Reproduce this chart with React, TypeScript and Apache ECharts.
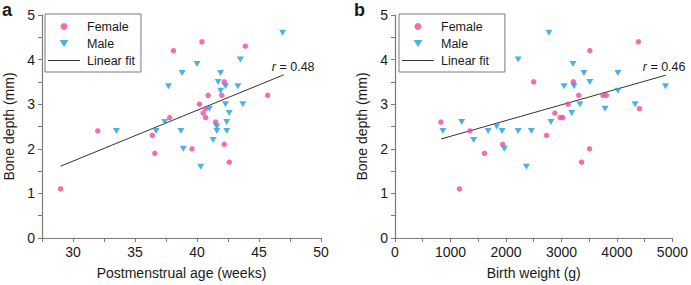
import React, { useEffect, useRef } from "react";
import * as echarts from "echarts";

// Panel a: postmenstrual age (weeks) vs bone depth (mm)
const femaleAgeA = [29.0, 32.0, 36.4, 36.6, 37.8, 38.1, 39.6, 40.2, 40.4, 40.9, 40.7, 40.5, 40.7, 41.5, 42.0, 42.2, 42.2, 42.6, 43.9, 45.7];
const femaleDepthA = [1.1, 2.4, 2.3, 1.9, 2.7, 4.2, 2.0, 3.0, 4.4, 3.2, 2.9, 2.8, 2.7, 2.6, 3.2, 3.5, 2.1, 1.7, 4.3, 3.2];
const maleAgeA = [33.5, 36.7, 37.4, 37.7, 38.7, 38.8, 38.9, 40.0, 40.3, 41.0, 41.3, 41.6, 41.6, 41.7, 41.9, 41.9, 42.3, 42.3, 42.4, 42.4, 42.6, 43.3, 43.5, 43.7, 46.9];
const maleDepthA = [2.4, 2.4, 2.6, 3.4, 2.4, 3.7, 2.0, 3.9, 1.6, 2.9, 2.2, 2.5, 2.4, 3.5, 3.7, 3.3, 3.4, 3.0, 2.6, 2.4, 2.8, 3.4, 4.0, 3.0, 4.6];
const fitXA = [29.0, 47.0];
const fitYA = [1.61, 3.66];
const rA = "0.48";

// Panel b: birth weight (g) vs bone depth (mm)
const femaleWeightB = [827, 1161, 1351, 1613, 1940, 2500, 2732, 2881, 2976, 3024, 3119, 3214, 3310, 3363, 3506, 3512, 3750, 3810, 4387, 4405];
const femaleDepthB = [2.6, 1.1, 2.4, 1.9, 2.1, 3.5, 2.3, 2.8, 2.7, 2.7, 3.0, 3.5, 3.2, 1.7, 2.0, 4.2, 3.2, 3.2, 4.4, 2.9];
const maleWeightB = [863, 1202, 1417, 1679, 1833, 1929, 1970, 2220, 2220, 2369, 2458, 2774, 2810, 3048, 3185, 3208, 3226, 3333, 3405, 3512, 3786, 4018, 4018, 4327, 4875];
const maleDepthB = [2.4, 2.6, 2.2, 2.4, 2.5, 2.4, 2.0, 4.0, 2.4, 1.6, 2.4, 4.6, 2.6, 3.4, 2.8, 3.9, 3.4, 3.0, 3.7, 3.5, 2.9, 3.7, 3.3, 3.0, 3.4];
const fitXB = [830, 4880];
const fitYB = [2.22, 3.65];
const rB = "0.46";

const seriesNames = ["Female", "Male", "Linear fit"];
const xTitles = ["Postmenstrual age (weeks)", "Birth weight (g)"];
const yTitle = "Bone depth (mm)";
const panelLetters = ["a", "b"];

const PINK = "#ee4a9e";
const BLUE = "#1d9fe2";
const AXIS = "#7a7a7a";
const TEXT = "#1a1a1a";
const FIT = "#333333";
const FONT = "'Liberation Sans', Arial, Helvetica, sans-serif";
const TRI = "path://M0,0 L10,0 L5,8 Z";
const LINE_ICON = "path://M0,0 L64,0 L64,2 L0,2 Z";

const zip = (xs: number[], ys: number[]) => xs.map((x, i) => [x, ys[i]]);

function xAxisOf(gridIndex: number, min: number, max: number, interval: number, major: number, name: string) {
  return {
    type: "value",
    gridIndex,
    min,
    max,
    interval,
    name,
    nameLocation: "middle",
    nameGap: 28,
    nameTextStyle: { color: TEXT, fontSize: 14, fontFamily: FONT },
    axisLine: { show: true, onZero: false, lineStyle: { color: AXIS, width: 1.2 } },
    axisTick: { show: true, inside: false, length: 4, lineStyle: { color: AXIS } },
    axisLabel: {
      color: TEXT,
      fontSize: 14,
      fontFamily: FONT,
      margin: 7,
      showMinLabel: true,
      showMaxLabel: true,
      formatter: (v: number) => (Math.abs(v / major - Math.round(v / major)) < 1e-6 ? String(v) : ""),
    },
    splitLine: { show: false },
  };
}

function yAxisOf(gridIndex: number) {
  return {
    type: "value",
    gridIndex,
    min: 0,
    max: 5,
    interval: 0.5,
    name: yTitle,
    nameLocation: "middle",
    nameGap: 26,
    nameTextStyle: { color: TEXT, fontSize: 14, fontFamily: FONT },
    axisLine: { show: true, onZero: false, lineStyle: { color: AXIS, width: 1.2 } },
    axisTick: { show: true, inside: false, length: 4, lineStyle: { color: AXIS } },
    axisLabel: {
      color: TEXT,
      fontSize: 14,
      fontFamily: FONT,
      margin: 7,
      formatter: (v: number) => (Math.abs(v - Math.round(v)) < 1e-6 ? String(Math.round(v)) : ""),
    },
    splitLine: { show: false },
  };
}

function legendOf(left: number, padRight: number) {
  return {
    show: true,
    orient: "vertical",
    left,
    top: 14,
    data: [
      { name: seriesNames[0] },
      { name: seriesNames[1] },
      { name: seriesNames[2], icon: LINE_ICON, itemStyle: { color: FIT } },
    ],
    itemWidth: 32,
    itemHeight: 7,
    itemGap: 4,
    padding: [6, padRight, 5, 3],
    borderColor: AXIS,
    borderWidth: 1,
    borderRadius: 0,
    textStyle: { color: TEXT, fontSize: 12.5, fontFamily: FONT, padding: [0, 0, 0, 2] },
    selectedMode: false,
  };
}

function seriesOf(idx: number, fx: number[], fy: number[], mx: number[], my: number[], lx: number[], ly: number[]) {
  return [
    {
      type: "scatter",
      name: seriesNames[0],
      xAxisIndex: idx,
      yAxisIndex: idx,
      symbol: "circle",
      symbolSize: 5.5,
      itemStyle: { color: PINK },
      data: zip(fx, fy),
      z: 3,
    },
    {
      type: "scatter",
      name: seriesNames[1],
      xAxisIndex: idx,
      yAxisIndex: idx,
      symbol: TRI,
      symbolSize: [7, 6],
      itemStyle: { color: BLUE },
      data: zip(mx, my),
      z: 3,
    },
    {
      type: "line",
      name: seriesNames[2],
      xAxisIndex: idx,
      yAxisIndex: idx,
      symbol: "none",
      showSymbol: false,
      lineStyle: { color: FIT, width: 1 },
      itemStyle: { color: FIT },
      data: zip(lx, ly),
      z: 2,
    },
  ];
}

export default function App() {
  const ref = useRef<HTMLDivElement>(null);
  useEffect(() => {
    if (!ref.current) return;
    const chart = echarts.init(ref.current, undefined, { renderer: "svg" });
    chart.setOption({
      animation: false,
      backgroundColor: "#ffffff",
      textStyle: { fontFamily: FONT },
      grid: [
        { left: 42, top: 15, width: 279, height: 224 },
        { left: 395, top: 15, width: 280, height: 224 },
      ],
      xAxis: [xAxisOf(0, 27.5, 50, 2.5, 5, xTitles[0]), xAxisOf(1, 0, 5000, 500, 1000, xTitles[1])],
      yAxis: [yAxisOf(0), yAxisOf(1)],
      legend: [legendOf(45, 6), legendOf(399, 16)],
      series: [
        ...seriesOf(0, femaleAgeA, femaleDepthA, maleAgeA, maleDepthA, fitXA, fitYA),
        ...seriesOf(1, femaleWeightB, femaleDepthB, maleWeightB, maleDepthB, fitXB, fitYB),
      ],
    });
    const endA = chart.convertToPixel({ gridIndex: 0 }, [fitXA[fitXA.length - 1], fitYA[fitYA.length - 1]]) as number[];
    const endB = chart.convertToPixel({ gridIndex: 1 }, [fitXB[fitXB.length - 1], fitYB[fitYB.length - 1]]) as number[];
    const rText = (end: number[], dx: number, r: string) => ({
      type: "text",
      x: end[0] + dx,
      y: end[1] - 8,
      style: {
        text: `{i|r} = ${r}`,
        fontSize: 12.5,
        fontFamily: FONT,
        fill: TEXT,
        verticalAlign: "middle",
        align: "left",
        rich: { i: { fontStyle: "italic", fontSize: 12.5, fontFamily: FONT, fill: TEXT, color: TEXT } },
      },
      z: 10,
    });
    chart.setOption({
      graphic: [
        { type: "text", left: 2, top: 1, style: { text: panelLetters[0], fontSize: 18, fontWeight: "bold", fontFamily: FONT, fill: TEXT } },
        { type: "text", left: 354, top: 1, style: { text: panelLetters[1], fontSize: 18, fontWeight: "bold", fontFamily: FONT, fill: TEXT } },
        rText(endA, -12, rA),
        rText(endB, -23, rB),
      ],
    });
    return () => chart.dispose();
  }, []);
  return <div ref={ref} style={{ width: 691, height: 285, position: "absolute", left: 0, top: 0 }} />;
}
